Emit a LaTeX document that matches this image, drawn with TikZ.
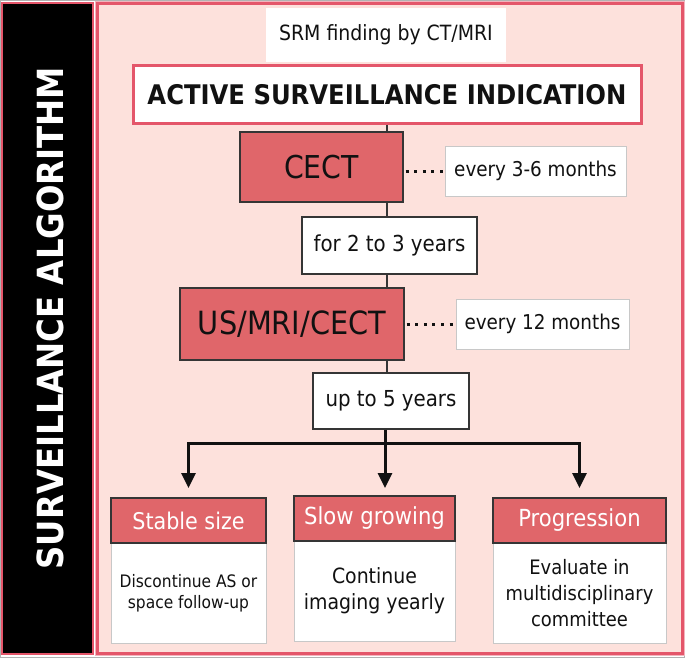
\documentclass[tikz,border=0pt]{standalone}
\usepackage{fontspec}
\setmainfont{DejaVu Sans Condensed}
\usetikzlibrary{arrows.meta}
\definecolor{panel}{HTML}{FDE1DC}
\definecolor{rim}{HTML}{E4566A}
\definecolor{boxred}{HTML}{E0666A}
\definecolor{ink}{HTML}{111111}
\definecolor{lightrim}{HTML}{C8C8C8}
\newcommand\fsz[2]{\fontsize{#1}{#2}\selectfont}
\tikzset{
  plain/.style={draw=none, fill=white, inner sep=0pt, align=center, text=ink},
  redbox/.style={draw=ink!85, line width=1.2pt, fill=boxred, inner sep=0pt, text=ink},
  notebox/.style={draw=lightrim, line width=1pt, fill=white, inner sep=0pt, text=ink},
  spanbox/.style={draw=ink!85, line width=1.2pt, fill=white, inner sep=0pt, text=ink},
  headbox/.style={draw=ink!85, line width=1.2pt, fill=boxred, inner sep=0pt, text=white},
  bodybox/.style={draw=lightrim, line width=1pt, fill=white, inner sep=0pt, align=center, text=ink},
  spine/.style={draw=ink!85, line width=1.6pt},
  dots/.style={draw=ink, line width=3pt, dash pattern=on 3pt off 5.6pt, shorten <=2pt, shorten >=0pt},
  branch/.style={draw=ink, line width=3pt},
  arr/.style={branch, -{Triangle[width=14pt,length=15pt]}},
}
\begin{document}
\begin{tikzpicture}[x=1pt,y=-1pt]
\useasboundingbox (0,0) rectangle (685,658);
% outer frame
\draw[gray!60, line width=1pt] (0.5,0.5) rectangle (684.5,657.5);
% left strip
\node[draw=rim, line width=2pt, fill=black, minimum width=91, minimum height=651, inner sep=0pt] (strip) at (47.5,328.5) {};
\node[rotate=90, text=white, font=\bfseries\fsz{36}{40}] (title) at (50,318) {SURVEILLANCE ALGORITHM};
% right panel
\node[draw=rim, line width=3.5pt, fill=panel, minimum width=585, minimum height=650, inner sep=0pt] (panel) at (390,328.5) {};
\draw[white!55!rim, line width=0.8pt] (panel.south west) rectangle (panel.north east);

% main flow
\node[plain, minimum width=240, minimum height=54, font=\fsz{21}{25}] (srm) at (386,35) {SRM finding by CT/MRI};
\node[draw=rim, line width=3pt, fill=white, inner sep=0pt, minimum width=508, minimum height=58, text=ink, font=\bfseries\fsz{27}{32}] (active) at (387,94.5) {ACTIVE SURVEILLANCE INDICATION};
\node[redbox, minimum width=163, minimum height=70, font=\fsz{31.5}{36}] (cect) at (321.5,167) {CECT};
\node[notebox, minimum width=181, minimum height=50, font=\fsz{20.4}{24}] (every1) at (535.5,171) {every 3-6 months};
\node[spanbox, minimum width=175, minimum height=57, font=\fsz{22}{26}] (for23) at (389.5,245.5) {for 2 to 3 years};
\node[redbox, minimum width=224, minimum height=72, font=\fsz{32}{36}] (us) at (292,324) {US/MRI/CECT};
\node[notebox, minimum width=173, minimum height=50, font=\fsz{20.4}{24}] (every2) at (542.5,324) {every 12 months};
\node[spanbox, minimum width=156, minimum height=56, font=\fsz{22}{26}] (up5) at (391,401) {up to 5 years};

% outcome boxes
\node[bodybox, minimum width=155, minimum height=100, font=\fsz{17.2}{21.5}] (stablebody) at (188.5,593) {Discontinue AS or\\space follow-up};
\node[headbox, minimum width=155, minimum height=45, font=\fsz{23}{27}] (stablehead) at (188.5,520.5) {Stable size};
\node[bodybox, minimum width=161, minimum height=100, font=\fsz{21}{26}] (slowbody) at (374.5,591) {Continue\\imaging yearly};
\node[headbox, minimum width=161, minimum height=45, font=\fsz{23.5}{27}] (slowhead) at (374.5,518.5) {Slow growing};
\node[bodybox, minimum width=173, minimum height=100, font=\fsz{19.9}{26}] (progbody) at (579.5,593) {Evaluate in\\multidisciplinary\\committee};
\node[headbox, minimum width=173, minimum height=45, font=\fsz{23.5}{27}] (proghead) at (579.5,520.5) {Progression};

% spine connectors
\coordinate (sp) at (387,0);
\draw[spine] (active.south -| sp) -- (cect.north -| sp);
\draw[spine] (cect.south -| sp) -- (for23.north -| sp);
\draw[spine] (for23.south -| sp) -- (us.north -| sp);
\draw[spine] (us.south -| sp) -- (up5.north -| sp);
% dotted links
\draw[dots] (cect.east |- every1.west) -- (every1.west);
\draw[dots] (us.east |- every2.west) -- (every2.west);
% branches
\coordinate (jl) at (188.5,443);
\coordinate (jm) at (385,443);
\coordinate (jr) at (579.5,443);
\coordinate (tip) at (0,488);
\draw[branch] (up5.south -| jm) -- (jm);
\draw[branch, line cap=rect] (jl) -- (jr);
\draw[arr] (jl) -- (jl |- tip);
\draw[arr] (jm) -- (jm |- tip);
\draw[arr] (jr) -- (jr |- tip);
\end{tikzpicture}
\end{document}
